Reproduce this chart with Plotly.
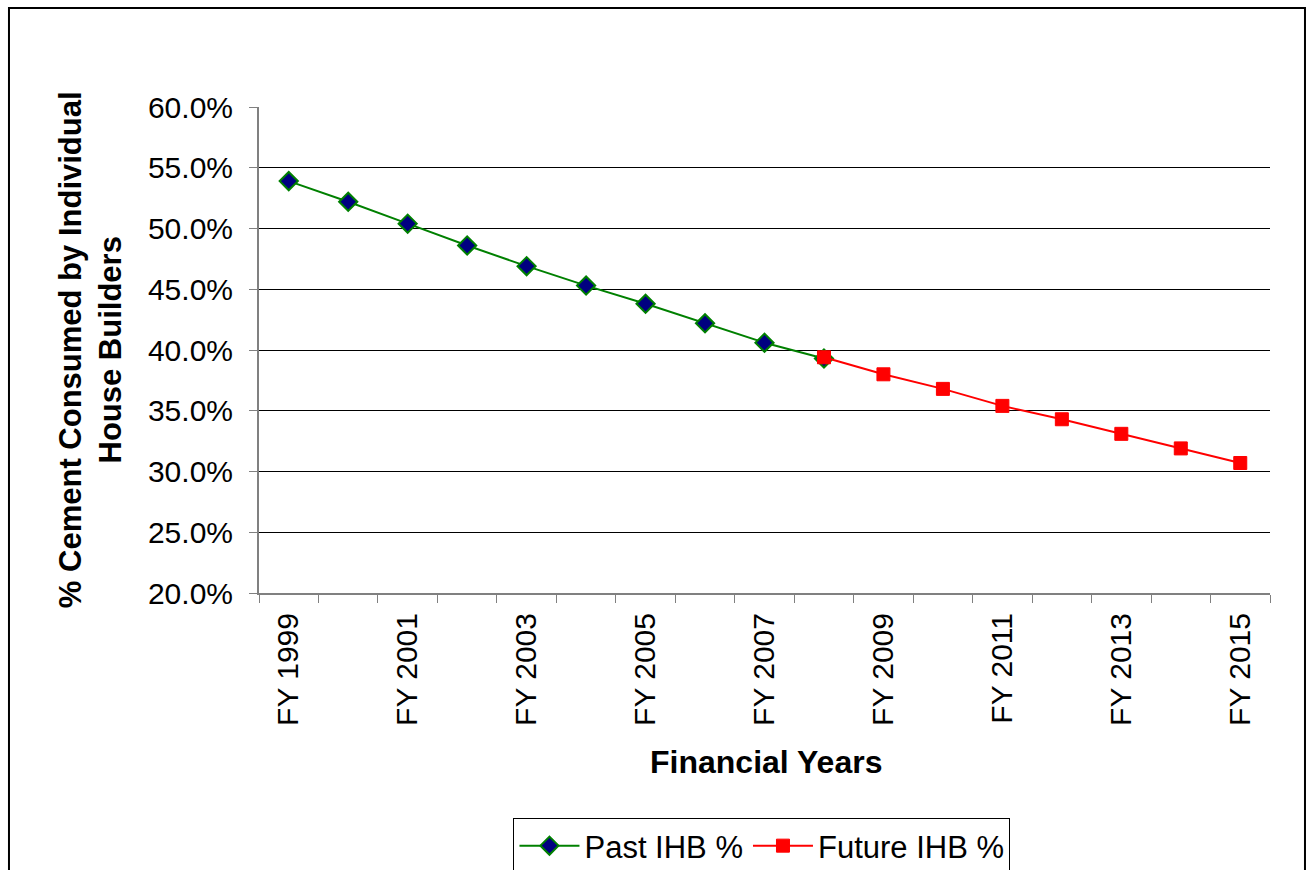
import plotly.graph_objects as go

years = ["FY %d" % y for y in range(1999, 2016)]
past_years = years[:10]
past_vals = [53.9, 52.2, 50.4, 48.6, 46.9, 45.3, 43.8, 42.2, 40.6, 39.3]
future_years = years[9:]
future_vals = [39.4, 38.0, 36.8, 35.4, 34.3, 33.1, 31.9, 30.7]
y_ticks = [20, 25, 30, 35, 40, 45, 50, 55, 60]
x_labels = [y if i % 2 == 0 else "" for i, y in enumerate(years)]

FONT = "Liberation Sans, Arial, sans-serif"

fig = go.Figure()
fig.add_trace(go.Scatter(
    x=past_years, y=past_vals, name="Past IHB %", mode="lines+markers",
    line=dict(color="#008000", width=2),
    marker=dict(symbol="diamond", size=14, color="#000080", line=dict(color="#008000", width=2)),
))
fig.add_trace(go.Scatter(
    x=future_years, y=future_vals, name="Future IHB %", mode="lines+markers",
    line=dict(color="#FF0000", width=2),
    marker=dict(symbol="square", size=13, color="#FF0000", line=dict(color="#FF0000", width=1)),
))

fig.update_layout(
    width=1312, height=870,
    margin=dict(l=259, r=42, t=107, b=277, autoexpand=False),
    paper_bgcolor="white", plot_bgcolor="white",
    font=dict(family=FONT, size=30, color="black"),
    showlegend=True,
    legend=dict(orientation="h", x=0.4975, xanchor="center",
                yref="container", y=(870 - 818) / 870, yanchor="top",
                bordercolor="black", borderwidth=1, font=dict(size=31),
                itemwidth=60, tracegroupgap=0),
    xaxis=dict(
        type="category", categoryorder="array", categoryarray=years,
        tickvals=years, ticktext=x_labels, tickangle=-90,
        tickson="boundaries", ticks="outside", ticklen=8, tickcolor="#808080",
        showline=True, linecolor="#808080", linewidth=2, showgrid=False,
        range=[-0.5, 16.5], tickfont=dict(size=30), automargin=False,
        ticklabelstandoff=6,
    ),
    yaxis=dict(
        range=[20, 60], tickvals=y_ticks, ticktext=["%.1f%%" % v for v in y_ticks],
        ticks="outside", ticklen=8, tickcolor="#808080",
        showline=True, linecolor="#808080", linewidth=2,
        showgrid=True, gridcolor="black", gridwidth=1, zeroline=False,
        tickfont=dict(size=30), automargin=False, ticklabelstandoff=10,
    ),
    annotations=[
        dict(text="<b>% Cement Consumed by Individual<br>House Builders</b>",
             xref="paper", yref="paper", x=-0.167, y=0.5, textangle=-90,
             showarrow=False, font=dict(size=31), xanchor="center", yanchor="middle"),
        dict(text="<b>Financial Years</b>", xref="paper", yref="paper",
             x=0.5015, y=-0.348, showarrow=False, font=dict(size=32),
             xanchor="center", yanchor="middle"),
    ],
    shapes=[
        dict(type="rect", xref="paper", yref="paper", x0=-0.2473, x1=1.0346,
             y0=-0.6, y1=1.2037, line=dict(color="black", width=2), layer="below"),
    ],
)

fig.write_html("out.html")
